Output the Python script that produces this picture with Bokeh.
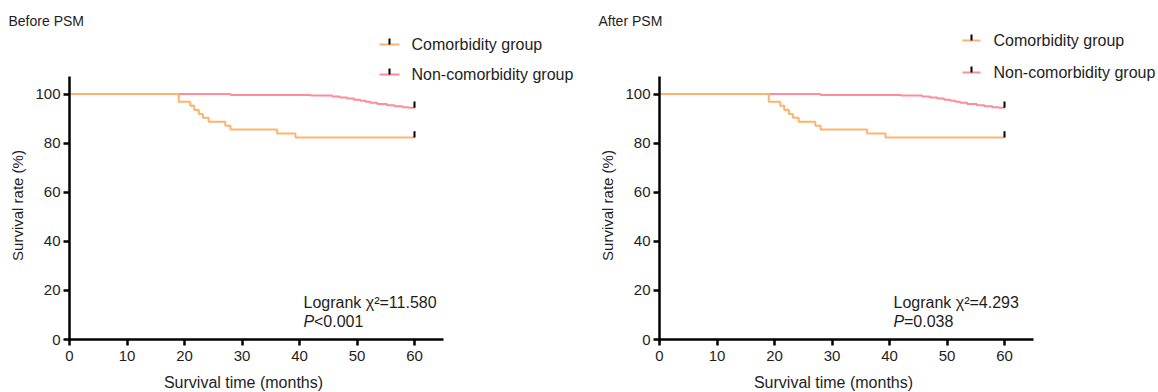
import math
from bokeh.plotting import figure
from bokeh.layouts import row
from bokeh.models import Label, Range1d, LinearAxis, FixedTicker
from bokeh.embed import file_html
from bokeh.resources import INLINE

# ---------------- data ----------------
x_ticks = [0, 10, 20, 30, 40, 50, 60]
y_ticks = [0, 20, 40, 60, 80, 100]
series_names = ["Comorbidity group", "Non-comorbidity group"]

before_como_time = [0, 19, 21, 21.7, 22.5, 23.2, 24.2, 27.1, 28, 36.1, 39.3, 60]
before_como_surv = [100, 96.8, 95.2, 93.5, 91.9, 90.3, 88.7, 87.1, 85.5, 83.9, 82.3, 82.3]
before_non_time = [0, 28, 42, 45.7, 47, 48.3, 49.5, 50.6, 51.5, 52.3, 53.5, 55.2, 56.5, 57.9, 59, 60]
before_non_surv = [100, 99.6, 99.4, 99.0, 98.6, 98.2, 97.7, 97.2, 96.8, 96.4, 95.9, 95.4, 95.0, 94.6, 94.4, 94.4]

after_como_time = [0, 19, 21, 21.7, 22.5, 23.2, 24.2, 27.1, 28, 36.1, 39.3, 60]
after_como_surv = [100, 96.8, 95.2, 93.5, 91.9, 90.3, 88.7, 87.1, 85.5, 83.9, 82.3, 82.3]
after_non_time = [0, 28, 42, 45.7, 47, 48.3, 49.5, 50.6, 51.5, 52.3, 53.5, 55.2, 56.5, 57.9, 59, 60]
after_non_surv = [100, 99.6, 99.4, 99.0, 98.6, 98.2, 97.7, 97.2, 96.8, 96.4, 95.9, 95.4, 95.0, 94.6, 94.4, 94.4]

before_stats = ("11.580", "<0.001")
after_stats = ("4.293", "=0.038")

# ---------------- style ----------------
COMO = "#FFB26E"
NON = "#FF8C99"
FONT = "Liberation Sans"
TXT = "#1e1e1e"
H = 392
ORIGIN_X = 69     # px of month 0 inside each figure
ORIGIN_Y = 339    # px (from top) of 0 %
PX_X = 5.75       # px per month
PX_Y = 2.455      # px per percent


def make(width, title, ct, cs, nt, ns, stats, leg):
    p = figure(width=width, height=H, output_backend="svg", toolbar_location=None,
               x_range=Range1d(-ORIGIN_X / PX_X, (width - ORIGIN_X) / PX_X),
               y_range=Range1d(-(H - ORIGIN_Y) / PX_Y, ORIGIN_Y / PX_Y),
               x_axis_location=None, y_axis_location=None,
               min_border=0)
    p.outline_line_color = None
    p.grid.visible = False
    p.background_fill_color = "white"
    p.border_fill_color = "white"

    def dx(px):
        return (px - ORIGIN_X) / PX_X

    def dy(py):
        return (ORIGIN_Y - py) / PX_Y

    xa = LinearAxis(fixed_location=0, ticker=FixedTicker(ticks=x_ticks), bounds=(0, 65))
    ya = LinearAxis(fixed_location=0, ticker=FixedTicker(ticks=y_ticks), bounds=(-0.8, 107))
    p.add_layout(xa, "below")
    p.add_layout(ya, "left")
    for ax in (xa, ya):
        ax.axis_line_width = 2.5
        ax.axis_line_color = "black"
        ax.major_tick_line_width = 2.5
        ax.major_tick_line_color = "black"
        ax.major_tick_out = 6
        ax.major_tick_in = 0
        ax.minor_tick_line_color = None
        ax.major_label_text_font = FONT
        ax.major_label_text_font_size = "15px"
        ax.major_label_text_color = TXT
    xa.major_label_standoff = 5
    ya.major_label_standoff = 3

    # curves
    p.step(nt, ns, mode="after", line_color=NON, line_width=2)
    p.step(ct, cs, mode="after", line_color=COMO, line_width=2)
    # censor ticks at end
    p.segment(x0=[ct[-1], nt[-1]], y0=[cs[-1], ns[-1]],
              x1=[ct[-1], nt[-1]], y1=[cs[-1] + 2.5, ns[-1] + 2.5],
              line_color="black", line_width=2)

    # legend (manual)
    lx0, lx1, tx, ys = leg
    for name, col, ly in zip(series_names, (COMO, NON), ys):
        p.segment(x0=[dx(lx0)], y0=[dy(ly)], x1=[dx(lx1)], y1=[dy(ly)], line_color=col, line_width=2)
        xm = dx((lx0 + lx1) / 2)
        p.segment(x0=[xm], y0=[dy(ly)], x1=[xm], y1=[dy(ly - 6)], line_color="black", line_width=2)
        p.add_layout(Label(x=dx(tx), y=dy(ly), text=name, text_font=FONT, text_font_size="16px",
                           text_color=TXT, text_baseline="middle", text_align="left"))

    # title
    p.add_layout(Label(x=dx(8), y=dy(20), text=title, text_font=FONT, text_font_size="14px",
                       text_color=TXT, text_baseline="middle", text_align="left"))
    # axis labels
    p.add_layout(Label(x=dx(17), y=dy(205), text="Survival rate (%)", angle=math.pi / 2,
                       text_font=FONT, text_font_size="15px", text_color=TXT,
                       text_baseline="middle", text_align="center"))
    p.add_layout(Label(x=dx(243), y=dy(382), text="Survival time (months)",
                       text_font=FONT, text_font_size="16px", text_color=TXT,
                       text_baseline="middle", text_align="center"))
    # stats
    chi, pv = stats
    p.add_layout(Label(x=dx(303), y=dy(302), text="Logrank \u03c7\u00b2=" + chi,
                       text_font=FONT, text_font_size="16px", text_color=TXT,
                       text_baseline="middle", text_align="left"))
    p.add_layout(Label(x=dx(303), y=dy(321), text="P", text_font_style="italic",
                       text_font=FONT, text_font_size="16px", text_color=TXT,
                       text_baseline="middle", text_align="left"))
    p.add_layout(Label(x=dx(303), y=dy(321), x_offset=10.5, text=pv,
                       text_font=FONT, text_font_size="16px", text_color=TXT,
                       text_baseline="middle", text_align="left"))
    return p


p1 = make(590, "Before PSM", before_como_time, before_como_surv, before_non_time, before_non_surv,
          before_stats, (379, 399, 411, (44, 74)))
p2 = make(568, "After PSM", after_como_time, after_como_surv, after_non_time, after_non_surv,
          after_stats, (372, 390, 403, (40, 72)))

layout = row(p1, p2)
open("out.html", "w").write(file_html(layout, INLINE))
